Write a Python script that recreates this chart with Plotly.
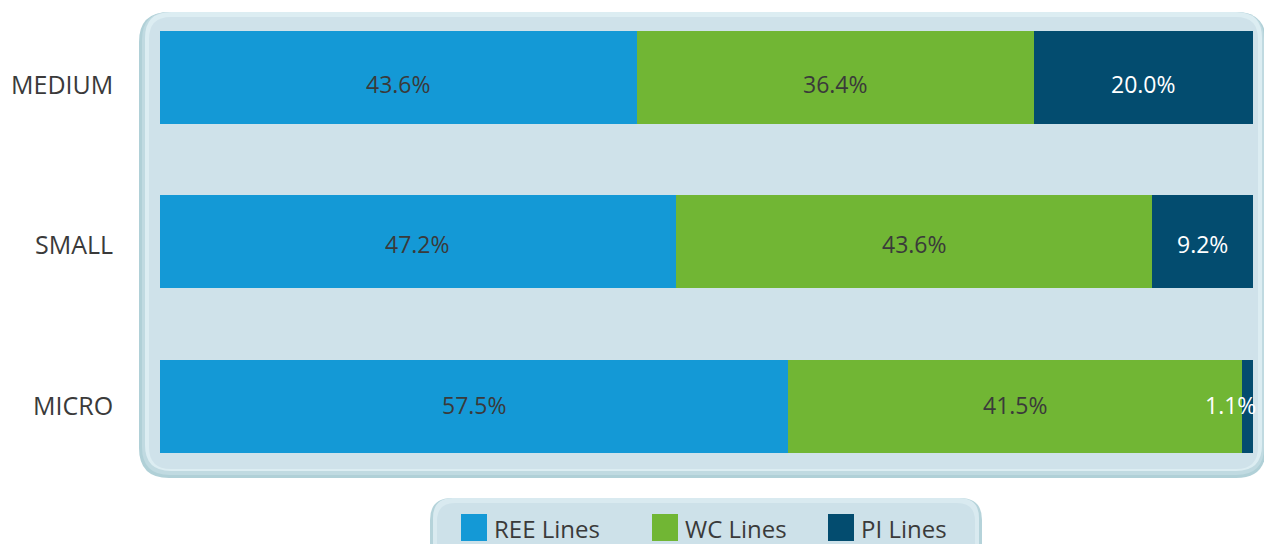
import plotly.graph_objects as go

categories = ["MICRO", "SMALL", "MEDIUM"]
ree = [57.5, 47.2, 43.6]
wc = [41.5, 43.6, 36.4]
pi = [1.1, 9.2, 20.0]
series_names = ["REE Lines", "WC Lines", "PI Lines"]
colors = ["#1499d6", "#71b634", "#034c6f"]

W, H = 1264, 544
ML, MR, MT, MB = 160, 11, 12, 66
PW, PH = W - ML - MR, H - MT - MB
ROW_TEXT_SHIFT = [1, -2.5, -6.5]  # vertical text offset per row (px, up positive)


def px(x):
    return (x - ML) / PW


def py(y):
    return (H - MB - y) / PH


def rrect(x0, y0, x1, y1, r):
    pts = []
    pts.append(f"M{px(x0 + r)},{py(y0)}")
    pts.append(f"L{px(x1 - r)},{py(y0)}")
    pts.append(f"Q{px(x1)},{py(y0)} {px(x1)},{py(y0 + r)}")
    pts.append(f"L{px(x1)},{py(y1 - r)}")
    pts.append(f"Q{px(x1)},{py(y1)} {px(x1 - r)},{py(y1)}")
    pts.append(f"L{px(x0 + r)},{py(y1)}")
    pts.append(f"Q{px(x0)},{py(y1)} {px(x0)},{py(y1 - r)}")
    pts.append(f"L{px(x0)},{py(y0 + r)}")
    pts.append(f"Q{px(x0)},{py(y0)} {px(x0 + r)},{py(y0)}")
    pts.append("Z")
    return " ".join(pts)


FONT = "Open Sans"
TXT = "#3a3a3a"
fig = go.Figure()

values = [ree, wc, pi]
text_colors = [TXT, TXT, "#ffffff"]
for name, vals, col in zip(series_names, values, colors):
    fig.add_trace(go.Bar(
        y=categories, x=vals, name=name, orientation="h",
        marker=dict(color=col, line=dict(width=0)),
        showlegend=False, hoverinfo="skip",
    ))

# value labels
for i, cat in enumerate(categories):
    start = 0.0
    for vals, tcol in zip(values, text_colors):
        v = vals[i]
        end = start + v
        if v >= 5:
            fig.add_annotation(x=(start + end) / 2, y=cat, xref="x", yref="y",
                               text=f"{v:.1f}%", showarrow=False,
                               yshift=ROW_TEXT_SHIFT[i],
                               font=dict(family=FONT, size=23, color=tcol))
        else:
            fig.add_annotation(x=min(end, 100), y=cat, xref="x", yref="y",
                               text=f"{v:.1f}%", showarrow=False,
                               xanchor="right", xshift=5, yshift=ROW_TEXT_SHIFT[i],
                               font=dict(family=FONT, size=23, color=tcol))
        start = end

# category labels
for i, cat in enumerate(categories):
    fig.add_annotation(x=px(115), y=cat, xref="paper", yref="y", text=cat,
                       showarrow=False, xanchor="right", yshift=ROW_TEXT_SHIFT[i],
                       font=dict(family=FONT, size=25, color=TXT))

shapes = []
# main panel with bevel-like layers
shapes.append(dict(type="path", xref="paper", yref="paper", path=rrect(139, 12, 1266, 478, 30),
                   fillcolor="#b0d0d7", line=dict(width=0), layer="below"))
shapes.append(dict(type="path", xref="paper", yref="paper", path=rrect(142, 12, 1264, 475, 28),
                   fillcolor="#c0dae1", line=dict(width=0), layer="below"))
shapes.append(dict(type="path", xref="paper", yref="paper", path=rrect(145, 12, 1262, 471, 26),
                   fillcolor="#dcedf2", line=dict(width=0), layer="below"))
shapes.append(dict(type="path", xref="paper", yref="paper", path=rrect(149, 17, 1258, 469, 22),
                   fillcolor="#cfe2ea", line=dict(width=0), layer="below"))

# legend panel
shapes.append(dict(type="path", xref="paper", yref="paper", path=rrect(430, 498, 982, 575, 22),
                   fillcolor="#b5d3da", line=dict(width=0), layer="below"))
shapes.append(dict(type="path", xref="paper", yref="paper", path=rrect(433, 498, 979, 575, 20),
                   fillcolor="#d9eaf0", line=dict(width=0), layer="below"))
shapes.append(dict(type="path", xref="paper", yref="paper", path=rrect(437, 503, 975, 575, 18),
                   fillcolor="#cde1e9", line=dict(width=0), layer="below"))

# legend items
leg_x = [461, 652, 828]
for name, col, lx in zip(series_names, colors, leg_x):
    shapes.append(dict(type="rect", xref="paper", yref="paper",
                       x0=px(lx), x1=px(lx + 26), y0=py(541), y1=py(514),
                       fillcolor=col, line=dict(width=0)))
    fig.add_annotation(x=px(lx + 31), y=py(528), xref="paper", yref="paper",
                       text=name, showarrow=False, xanchor="left", yanchor="middle",
                       font=dict(family=FONT, size=24, color=TXT))

fig.update_layout(
    width=W, height=H,
    margin=dict(l=ML, r=MR, t=MT, b=MB),
    barmode="stack", bargap=0.435,
    paper_bgcolor="#ffffff", plot_bgcolor="rgba(0,0,0,0)",
    shapes=shapes,
    xaxis=dict(range=[0, 100], visible=False, fixedrange=True),
    yaxis=dict(range=[-0.435, 2.398], showgrid=False, zeroline=False, showline=False,
               ticks="", showticklabels=False, fixedrange=True),
    font=dict(family=FONT),
)

fig.write_html("out.html", config={"displayModeBar": False},
               post_script="document.body.style.margin='0';document.body.style.overflow='hidden';")
